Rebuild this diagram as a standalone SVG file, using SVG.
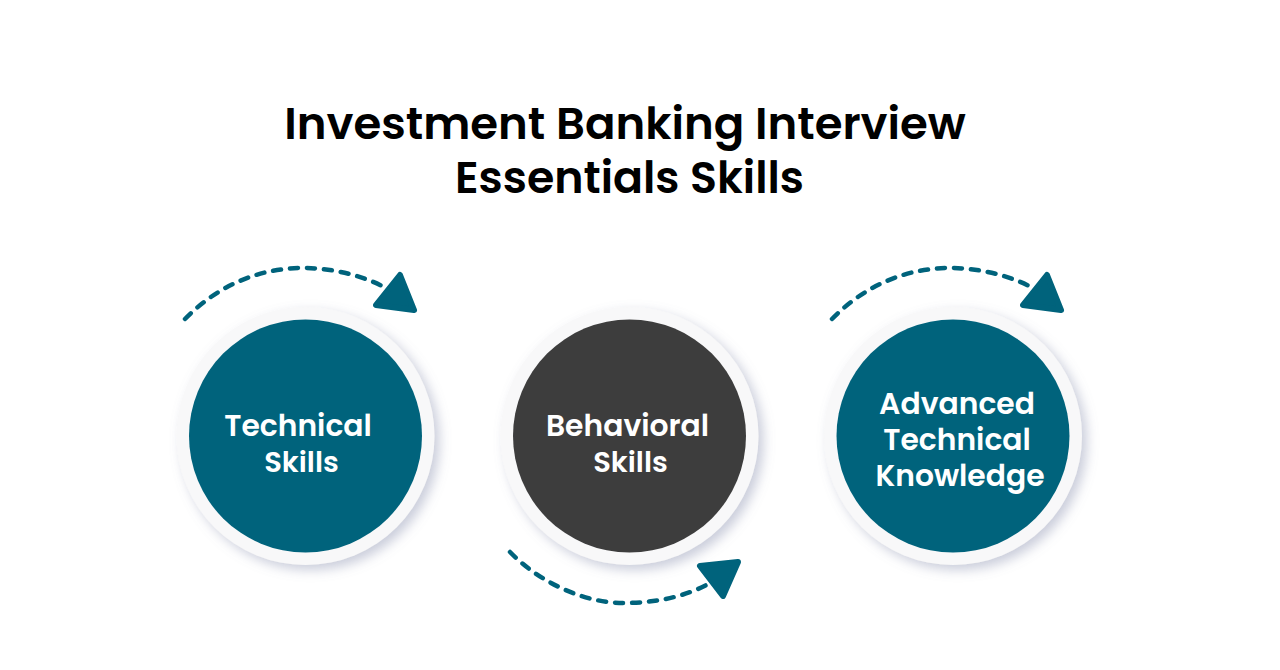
<svg xmlns="http://www.w3.org/2000/svg" width="1280" height="670" viewBox="0 0 1280 670">
<style>
.t{font-family:Poppins,"Inter","Liberation Sans",sans-serif;font-weight:600;text-anchor:middle}
.h{font-size:45px;fill:#000}
.h2{font-size:44.300px;fill:#000}
.l{font-size:29.800px;fill:#fff}
.k{font-size:29px;fill:#fff}
.o{fill:#f8f8f9;filter:url(#s)}
.c{fill:none;stroke:#00637c;stroke-width:4.500;stroke-dasharray:8 9;stroke-linecap:round}
.a{fill:#00637c;stroke:#00637c;stroke-width:6;stroke-linejoin:round}
.b{fill:#00637c}
</style>
<defs><filter id="s" x="-20%" y="-20%" width="140%" height="140%"><feDropShadow dx="5" dy="5" stdDeviation="6" flood-color="#8088a8" flood-opacity=".42"/></filter></defs>
<rect width="1280" height="670" fill="#fff"/>
<g id="title"><text class="t h" x="625" y="139">Investment Banking Interview</text><text class="t h2" x="629.500" y="192.500">Essentials Skills</text></g>
<g id="connectors">
<path class="c" d="M185 319C220 283 263 268 302 268C332 268 362 275 388 289"/><path class="a" d="M400 275L414 310L376 305Z"/>
<path class="c" d="M832 319C867 283 910 268 949 268C979 268 1009 275 1035 289"/><path class="a" d="M1047 275L1061 310L1023 305Z"/>
<path class="c" d="M510 552C540 583 585 603 623 603C655 603 685 597 710 583"/><path class="a" d="M700 566L738 562L723 596Z"/>
</g>
<g id="node-technical"><circle class="o" cx="305.500" cy="436" r="129"/><circle class="b" cx="305.500" cy="436" r="116.500"/><text class="t l" x="298" y="436">Technical</text><text class="t k" x="301.500" y="472">Skills</text></g>
<g id="node-behavioral"><circle class="o" cx="629.500" cy="436" r="129"/><circle cx="629.500" cy="436" r="116.500" fill="#3d3d3d"/><text class="t l" x="627.500" y="436">Behavioral</text><text class="t k" x="630.500" y="472">Skills</text></g>
<g id="node-advanced"><circle class="o" cx="953" cy="436" r="129"/><circle class="b" cx="953" cy="436" r="116.500"/><text class="t l" x="957" y="414">Advanced</text><text class="t l" x="957" y="450">Technical</text><text class="t l" x="960" y="486">Knowledge</text></g>
</svg>
